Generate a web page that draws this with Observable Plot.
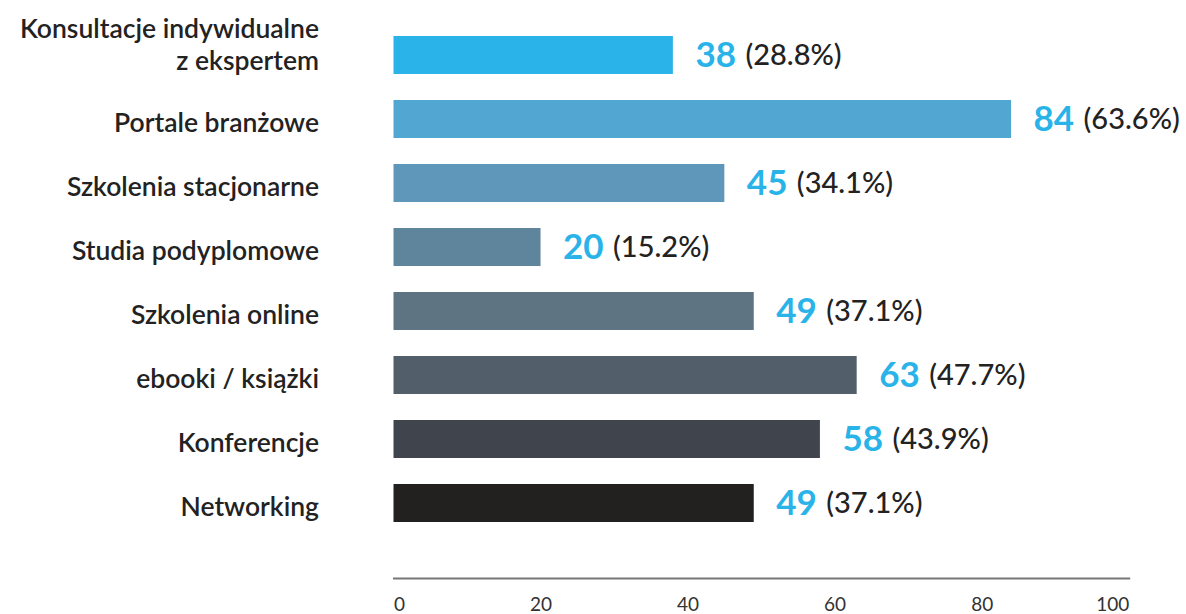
<!DOCTYPE html>
<html><head><meta charset="utf-8">
<script src="https://cdn.jsdelivr.net/npm/d3@7"></script>
<script src="https://cdn.jsdelivr.net/npm/@observablehq/plot@0.6"></script>
<style>body{margin:0;background:#fff}</style>
</head><body><div id="chart"></div>
<script>
const categories = [
  "Konsultacje indywidualne\nz ekspertem",
  "Portale branżowe",
  "Szkolenia stacjonarne",
  "Studia podyplomowe",
  "Szkolenia online",
  "ebooki / książki",
  "Konferencje",
  "Networking"
];
const counts = [38, 84, 45, 20, 49, 63, 58, 49];
const percents = [28.8, 63.6, 34.1, 15.2, 37.1, 47.7, 43.9, 37.1];
const xTicks = [0, 20, 40, 60, 80, 100];
const palette = ["#29b3e8", "#52a7d2", "#5e97b9", "#5f859c", "#5e7483", "#525f6b", "#40454d", "#222120"];

const data = categories.map((c, i) => ({category: c, count: counts[i], pct: percents[i]}));

const tickStyle = {tickSize: 0, tickPadding: 19, fontSize: 19, fill: "#333", label: null};
const yLabelStyle = {tickSize: 0, tickPadding: 75, fontSize: 26.5, fontWeight: 600, fill: "#222", lineHeight: 1.21, label: null};

const chart = Plot.plot({
  width: 1186, height: 614,
  marginTop: 10, marginBottom: 36, marginLeft: 393.5, marginRight: 57.3,
  style: {fontFamily: "Lato", background: "#fff"},
  x: {domain: [0, 100]},
  y: {domain: categories, padding: 0.4, insetBottom: 30.4},
  color: {domain: categories, range: palette},
  marks: [
    Plot.barX(data, {y: "category", x: "count", fill: "category"}),
    Plot.frame({anchor: "bottom", stroke: "#777", strokeWidth: 2}),
    Plot.axisY({...yLabelStyle, ticks: categories.slice(0, 1), dy: -12}),
    Plot.axisY({...yLabelStyle, ticks: categories.slice(1), dy: 2}),
    Plot.axisX({...tickStyle, ticks: xTicks.slice(0, 1), textAnchor: "start"}),
    Plot.axisX({...tickStyle, ticks: xTicks.slice(1, -1)}),
    Plot.axisX({...tickStyle, ticks: xTicks.slice(-1), textAnchor: "end"}),
    Plot.text(data, {y: "category", x: "count", text: d => String(d.count), dx: 22, textAnchor: "start", fill: "#29b3e8", fontSize: 35, fontWeight: 700}),
    Plot.text(data, {y: "category", x: "count", text: d => `(${d.pct.toFixed(1)}%)`, dx: 72, textAnchor: "start", fill: "#222", fontSize: 29, fontWeight: 500})
  ]
});
document.getElementById("chart").append(chart);
</script>
</body></html>
